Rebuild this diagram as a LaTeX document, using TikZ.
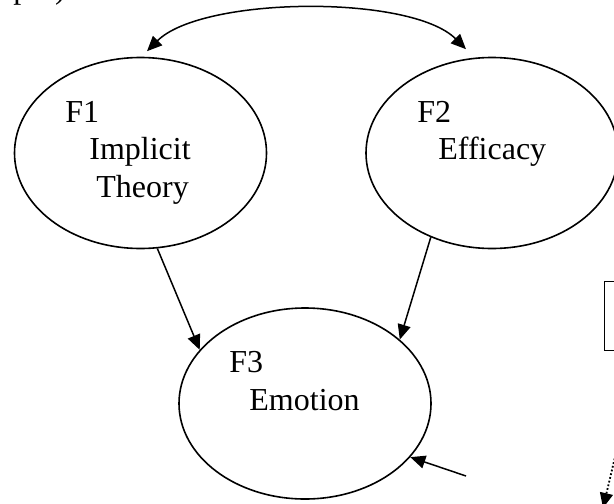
\documentclass[tikz,border=0pt]{standalone}
\usepackage{fontspec}
\setmainfont{Liberation Serif}
\usetikzlibrary{shapes.geometric,arrows.meta}

\begin{document}
\begin{tikzpicture}[x=0.5pt,y=-0.5pt]
    \newcommand{\factorwidth}[0]{126pt}
    \newcommand{\factorheight}[0]{95.5pt}

    \tikzstyle{dedge} = [line width=0.75pt,>={Triangle[length=7.5pt,width=6.5pt]},draw=black]

    \tikzstyle{factor}=[
      ellipse,
      draw=black,
      line width=0.8pt,
      minimum width=\factorwidth,
      minimum height=\factorheight,
      inner sep=0pt,
    ]
    \tikzstyle{factortext}=[
      anchor=base west,
      inner sep=0pt,
      font=\fontsize{16}{18}\selectfont,
    ]
    \tikzstyle{boxnode}=[
      rectangle,
      draw=black,
      line width=0.85pt,
      anchor=north west,
      inner sep=0pt,
      minimum width=40pt,
      minimum height=34.5pt,
    ]

    \useasboundingbox (0,0) rectangle (614,503);

    \node[factortext] (pagenote) at (13,-2) {p.\hspace{0.55em})};

    \node[factor] (f1) at (140.5,153) {};
    \node[factor] (f2) at (492,153) {};
    \node[factor] (f3) at (305,403.5) {};

    \node[factortext] (f1id) at (65,122) {F1};
    \node[factortext] (f1name) at (89,159) {Implicit};
    \node[factortext] (f1rest) at (96,197) {Theory};

    \node[factortext] (f2id) at (417,122) {F2};
    \node[factortext] (f2name) at (438,159) {Efficacy};

    \node[factortext] (f3id) at (229,372) {F3};
    \node[factortext] (f3name) at (249,410) {Emotion};

    \node[boxnode] (sidebox) at (603.5,280.5) {};

    \coordinate (e3) at (466,476);
    \coordinate (dotstart) at (619,440);
    \coordinate (dotend) at (603,508);

    \draw[dedge,<->] ([shift={(6.5,-5.5)}]f1.north)
              .. controls +(55,-55) and +(-55,-55) ..
              ([shift={(-26,-7.5)}]f2.north);

    \draw[dedge,->] (f1.-80) -- (f3.153);
    \draw[dedge,->] (f2.-126) -- (f3.34);
    \draw[dedge,->] (e3) -- (f3.-27);
    \draw[dedge,->,line width=0.9pt,densely dotted] (dotstart) -- (dotend);
  \end{tikzpicture}
\end{document}
